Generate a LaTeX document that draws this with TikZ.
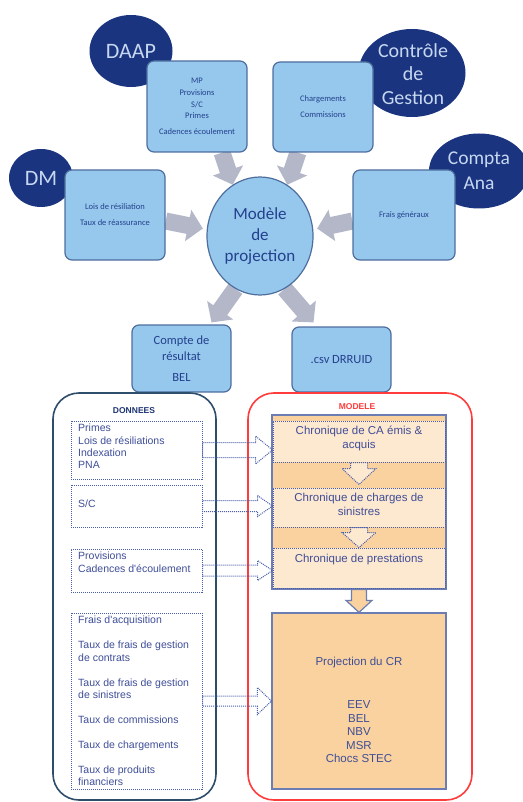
\documentclass[tikz,border=0pt]{standalone}
\usepackage{fontspec}
\setmainfont{Carlito}
\newfontfamily\arialf{Liberation Sans}
\usetikzlibrary{shapes.geometric,calc,backgrounds}

\definecolor{navy}{HTML}{1B3480}
\definecolor{navytext}{HTML}{C6D8F0}
\definecolor{skybox}{HTML}{95C8EC}
\definecolor{skyline}{HTML}{4E6E9E}
\definecolor{boxtext}{HTML}{24408E}
\definecolor{grayarrow}{HTML}{B3B7C8}
\definecolor{slate}{HTML}{2E4D6B}
\definecolor{redline}{HTML}{FF3B3B}
\definecolor{dotline}{HTML}{4A5FA8}
\definecolor{lowtext}{HTML}{3F4E98}
\definecolor{orange}{HTML}{FAD29F}
\definecolor{paleorange}{HTML}{FDE8D0}
\definecolor{colline}{HTML}{6B7DB3}

% block arrow: [style]{from}{tip}{shaft half}{head half}{head length}
\newcommand\blockarrow[6][]{%
  \coordinate (ba-s) at (#2);
  \coordinate (ba-t) at (#3);
  \coordinate (ba-b) at ($(ba-t)!#6!(ba-s)$);
  \path[#1] ($(ba-s)!#4!90:(ba-t)$) -- ($(ba-b)!#4!-90:(ba-s)$)
    -- ($(ba-b)!#5!-90:(ba-s)$) -- (ba-t) -- ($(ba-b)!#5!90:(ba-s)$)
    -- ($(ba-b)!#4!90:(ba-s)$) -- ($(ba-s)!#4!-90:(ba-t)$) -- cycle;
}

\begin{document}
\begin{tikzpicture}[x=1pt,y=-1pt,
    source/.style={ellipse,fill=navy,text=navytext,inner sep=0pt,align=center,
      font=\fontsize{20}{22}\selectfont},
    skyrect/.style={draw=skyline,line width=1.2pt,fill=skybox,rounded corners=7pt,
      text=boxtext,align=center,inner sep=0pt},
    grayblock/.style={fill=grayarrow},
    container/.style={line width=1.6pt,rounded corners=26pt},
    dotbox/.style={draw=dotline,densely dotted,line width=1pt,fill=white},
    lowlabel/.style={text=lowtext,align=left,inner sep=0pt,anchor=north west,
      font=\arialf\fontsize{10.5}{12.3}\selectfont},
    chrbox/.style={draw=dotline,densely dotted,line width=1pt,fill=paleorange},
    chrlabel/.style={text=lowtext,align=center,inner sep=0pt,
      font=\arialf\fontsize{11.5}{13.3}\selectfont},
    hollow/.style={draw=dotline,densely dotted,line width=1pt}]

  \useasboundingbox (0,0) rectangle (522,802);

  % sources
  \node[source,minimum width=83pt,minimum height=72pt,font=\fontsize{22}{24}\selectfont]
    (daap) at (131,51) {DAAP};
  \node[source,minimum width=107pt,minimum height=88pt] (cdg) at (412,73) {};
  \node[text=navytext,align=center,font=\fontsize{20}{23.5}\selectfont] (cdgtext) at (413,74)
    {Contr\^ole\\de\\Gestion};
  \node[source,minimum width=100pt,minimum height=75pt,font=\fontsize{19.5}{25}\selectfont]
    (compta) at (479,171) {Compta\\Ana};
  \node[source,minimum width=64pt,minimum height=58pt,font=\fontsize{22}{24}\selectfont]
    (dm) at (41,178) {DM};

  % input boxes
  \node[skyrect,minimum width=100pt,minimum height=91pt,font=\fontsize{8.5}{11.6}\selectfont]
    (mp) at (197,106.5) {MP\\Provisions\\S/C\\Primes\\[4pt]Cadences \'ecoulement};
  \node[skyrect,minimum width=100pt,minimum height=90pt,font=\fontsize{8.5}{11.6}\selectfont]
    (charg) at (323,107) {Chargements\\[4.5pt]Commissions};
  \node[skyrect,minimum width=100pt,minimum height=90pt,font=\fontsize{8.5}{11.6}\selectfont]
    (lois) at (115,215) {Lois de r\'esiliation\\[4.5pt]Taux de r\'eassurance};
  \node[skyrect,minimum width=102pt,minimum height=90pt,font=\fontsize{8.5}{11.6}\selectfont]
    (frais) at (404,215) {Frais g\'en\'eraux};

  \node[ellipse,draw=skyline,line width=1.2pt,fill=skybox,text=boxtext,align=center,
    minimum width=106pt,minimum height=118pt,inner sep=0pt,font=\fontsize{17}{21}\selectfont]
    (modele) at (260,236) {Mod\`ele\\de\\projection};

  % outputs
  \node[skyrect,minimum width=99pt,minimum height=67pt,font=\fontsize{12.5}{16}\selectfont]
    (cr) at (181.5,358.5) {Compte de\\r\'esultat\\[5pt]BEL};
  \node[skyrect,minimum width=99pt,minimum height=65pt,font=\fontsize{12.5}{15}\selectfont]
    (csv) at (341.5,359.5) {.csv DRRUID};

  \begin{scope}[on background layer]
    \blockarrow[grayblock]{[xshift=25pt]mp.south}{modele.118}{8.5pt}{16pt}{15pt}
    \blockarrow[grayblock]{[xshift=-25pt]charg.south}{modele.62}{8.5pt}{16pt}{15pt}
    \blockarrow[grayblock]{[yshift=-6pt]lois.east}{[xshift=-4pt]modele.172}{8.5pt}{16pt}{15pt}
    \blockarrow[grayblock]{[yshift=-6pt]frais.west}{[xshift=4pt]modele.8}{8.5pt}{16pt}{15pt}
    \blockarrow[grayblock]{modele.245}{[xshift=30pt,yshift=2pt]cr.north}{8.5pt}{16pt}{15pt}
    \blockarrow[grayblock]{modele.295}{[xshift=-28pt,yshift=4pt]csv.north}{8.5pt}{16pt}{15pt}
  \end{scope}

  % DONNEES
  \draw[container,draw=slate] (53,393) rectangle (216,800);
  \node[text=boxtext!80!black,font=\arialf\bfseries\fontsize{8.5}{10}\selectfont]
    (donnees) at (134,411) {DONNEES};
  \node[dotbox,minimum width=131pt,minimum height=58pt] (d1) at (136.5,450) {};
  \node[dotbox,minimum width=131pt,minimum height=42pt] (d2) at (136.5,506) {};
  \node[dotbox,minimum width=131pt,minimum height=43pt] (d3) at (136.5,570.5) {};
  \node[dotbox,minimum width=131pt,minimum height=176pt] (d4) at (136.5,701) {};
  \node[lowlabel] (l1) at (78,424) {Primes\\Lois de r\'esiliations\\Indexation\\PNA};
  \node[lowlabel] (l2) at (78,500) {S/C};
  \node[lowlabel] (l3) at (78,552) {Provisions\\Cadences d'\'ecoulement};
  \node[lowlabel] (l4) at (78,616) {Frais d'acquisition\\[12.7pt]Taux de frais de gestion\\de contrats\\[12.7pt]Taux de frais de gestion\\de sinistres\\[12.7pt]Taux de commissions\\[12.7pt]Taux de chargements\\[12.7pt]Taux de produits\\financiers};

  % MODELE
  \draw[container,draw=redline] (248,393) rectangle (472,800);
  \node[text=redline,font=\arialf\bfseries\fontsize{8.5}{10}\selectfont]
    (modeletitle) at (357,407) {MODELE};
  \node[draw=colline,line width=1.2pt,fill=orange,minimum width=174pt,minimum height=174pt]
    (col) at (359,502) {};
  \node[chrbox,minimum width=172pt,minimum height=41pt] (chA) at (359,441.5) {};
  \node[chrbox,minimum width=172pt,minimum height=39pt] (chB) at (359,507.5) {};
  \node[chrbox,minimum width=172pt,minimum height=40pt] (chC) at (359,568) {};
  \node[chrlabel] (tA) at (359,438.5) {Chronique de CA \'emis \&\\acquis};
  \node[chrlabel] (tB) at (359,504.5) {Chronique de charges de\\sinistres};
  \node[chrlabel] (tC) at (359,560) {Chronique de prestations};
  \blockarrow[hollow,fill=paleorange]{chA.south}{[yshift=3pt]chB.north}{8.5pt}{17pt}{16pt}
  \blockarrow[hollow,fill=paleorange]{chB.south}{chC.north}{8.5pt}{17pt}{15pt}

  \node[draw=colline,line width=1.2pt,fill=orange,minimum width=174pt,minimum height=176pt]
    (proj) at (359,701) {};
  \node[chrlabel] (tP) at (359,663) {Projection du CR};
  \node[chrlabel,font=\arialf\fontsize{11.5}{13.5}\selectfont] (tOut) at (359,732)
    {EEV\\BEL\\NBV\\MSR\\Chocs STEC};
  \blockarrow[draw=colline,line width=1.2pt,fill=orange]{col.south}{proj.north}{7.5pt}{13pt}{12pt}

  % data flows
  \blockarrow[hollow]{d1.east}{d1.east -| chA.west}{7.5pt}{14pt}{17pt}
  \blockarrow[hollow]{d2.east}{d2.east -| chB.west}{5.5pt}{10.5pt}{15pt}
  \blockarrow[hollow]{d3.east}{d3.east -| chC.west}{5.5pt}{10pt}{15pt}
  \blockarrow[hollow]{d4.east}{d4.east -| proj.west}{5pt}{13.5pt}{14pt}
\end{tikzpicture}
\end{document}
